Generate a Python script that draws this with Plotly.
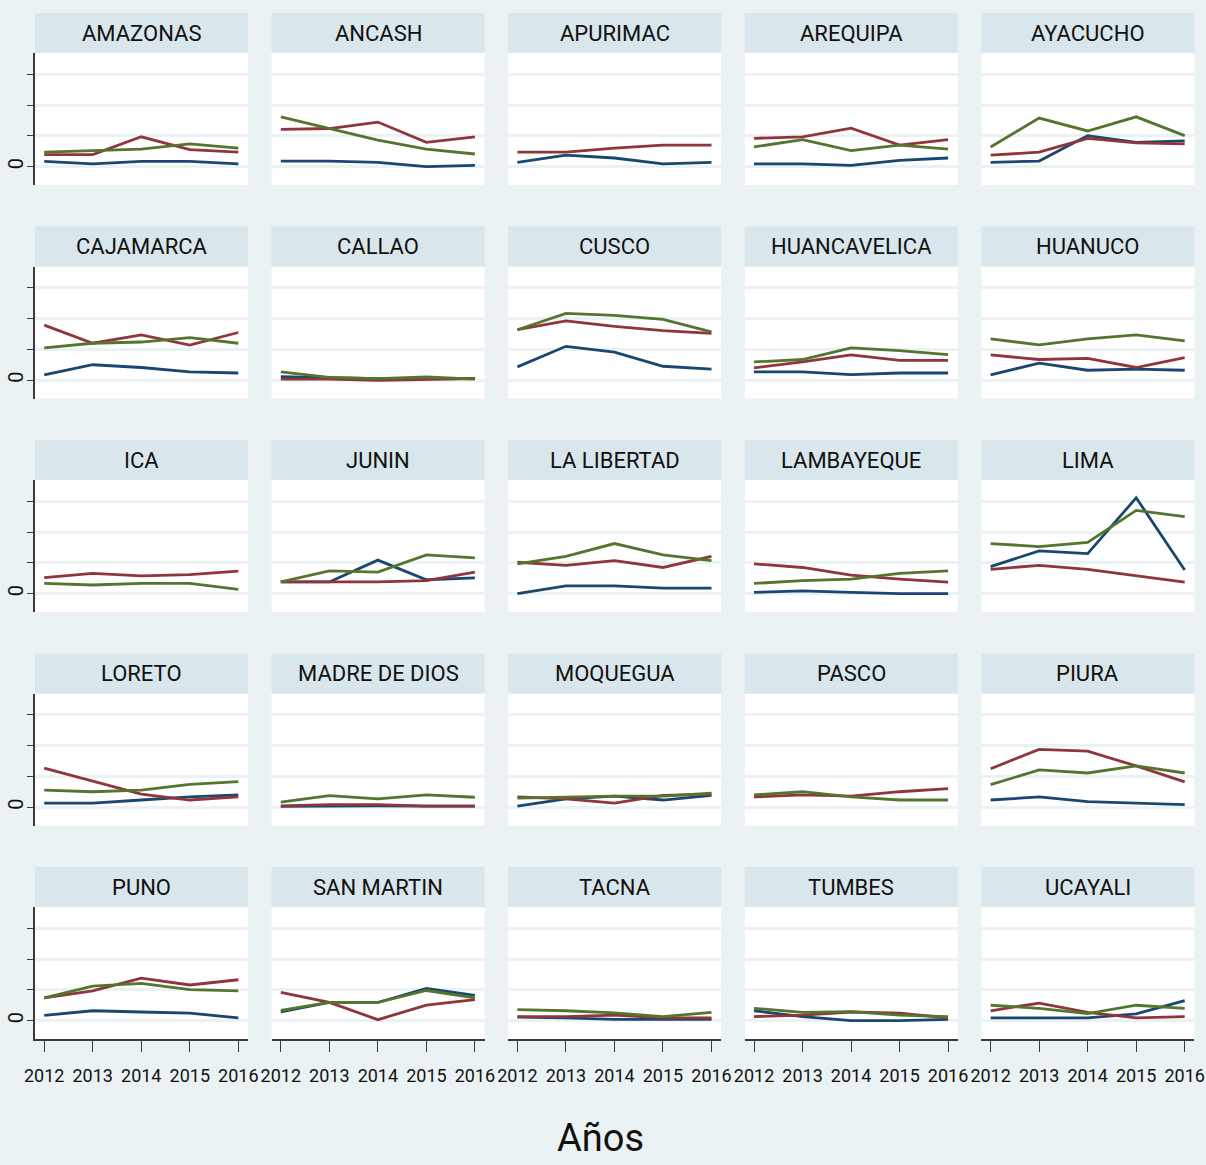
import plotly.graph_objects as go

regions = ["AMAZONAS", "ANCASH", "APURIMAC", "AREQUIPA", "AYACUCHO",
           "CAJAMARCA", "CALLAO", "CUSCO", "HUANCAVELICA", "HUANUCO",
           "ICA", "JUNIN", "LA LIBERTAD", "LAMBAYEQUE", "LIMA",
           "LORETO", "MADRE DE DIOS", "MOQUEGUA", "PASCO", "PIURA",
           "PUNO", "SAN MARTIN", "TACNA", "TUMBES", "UCAYALI"]
years = [2012, 2013, 2014, 2015, 2016]

serie_azul = [
    [0.17, 0.09, 0.17, 0.17, 0.09],
    [0.18, 0.18, 0.14, 0.00, 0.04],
    [0.14, 0.37, 0.28, 0.09, 0.14],
    [0.09, 0.09, 0.04, 0.20, 0.28],
    [0.14, 0.18, 1.01, 0.79, 0.84],
    [0.17, 0.50, 0.41, 0.27, 0.23],
    [0.11, 0.08, 0.05, 0.05, 0.05],
    [0.43, 1.10, 0.91, 0.45, 0.36],
    [0.27, 0.27, 0.18, 0.23, 0.23],
    [0.17, 0.55, 0.32, 0.36, 0.32],
    [None, None, None, None, None],
    [0.38, 0.38, 1.09, 0.45, 0.51],
    [0.00, 0.25, 0.25, 0.18, 0.18],
    [0.04, 0.09, 0.04, 0.00, 0.00],
    [0.88, 1.39, 1.30, 3.12, 0.77],
    [0.13, 0.13, 0.23, 0.33, 0.40],
    [0.02, 0.04, 0.04, 0.03, 0.03],
    [0.03, 0.27, 0.36, 0.23, 0.38],
    [None, None, None, None, None],
    [0.23, 0.33, 0.18, 0.13, 0.08],
    [0.17, 0.32, 0.28, 0.24, 0.09],
    [0.28, 0.59, 0.59, 1.05, 0.82],
    [0.11, 0.09, 0.04, 0.04, 0.04],
    [0.32, 0.13, 0.00, 0.00, 0.04],
    [0.09, 0.09, 0.09, 0.22, 0.65],
]
serie_roja = [
    [0.39, 0.39, 0.97, 0.55, 0.47],
    [1.21, 1.24, 1.45, 0.79, 0.97],
    [0.47, 0.47, 0.60, 0.70, 0.70],
    [0.92, 0.97, 1.25, 0.70, 0.88],
    [0.37, 0.47, 0.92, 0.77, 0.74],
    [1.79, 1.20, 1.47, 1.14, 1.55],
    [0.03, 0.03, -0.01, 0.03, 0.05],
    [1.64, 1.93, 1.75, 1.61, 1.52],
    [0.40, 0.59, 0.82, 0.64, 0.64],
    [0.82, 0.67, 0.71, 0.41, 0.73],
    [0.52, 0.66, 0.58, 0.62, 0.73],
    [0.38, 0.38, 0.38, 0.42, 0.70],
    [1.02, 0.92, 1.07, 0.85, 1.21],
    [0.97, 0.85, 0.60, 0.47, 0.37],
    [0.79, 0.92, 0.79, 0.58, 0.37],
    [1.27, 0.84, 0.42, 0.23, 0.33],
    [0.04, 0.08, 0.08, 0.03, 0.03],
    [0.33, 0.27, 0.13, 0.38, 0.42],
    [0.33, 0.40, 0.36, 0.50, 0.60],
    [1.25, 1.88, 1.82, 1.34, 0.82],
    [0.74, 0.97, 1.38, 1.16, 1.33],
    [0.92, 0.59, 0.03, 0.50, 0.68],
    [0.13, 0.13, 0.18, 0.09, 0.09],
    [0.13, 0.18, 0.28, 0.24, 0.09],
    [0.32, 0.57, 0.27, 0.09, 0.13],
]
serie_verde = [
    [0.47, 0.52, 0.57, 0.74, 0.60],
    [1.62, 1.25, 0.86, 0.57, 0.41],
    [None, None, None, None, None],
    [0.64, 0.88, 0.52, 0.70, 0.57],
    [0.64, 1.58, 1.16, 1.62, 1.01],
    [1.05, 1.20, 1.24, 1.38, 1.20],
    [0.27, 0.09, 0.05, 0.10, 0.03],
    [1.64, 2.17, 2.11, 1.98, 1.57],
    [0.59, 0.67, 1.05, 0.96, 0.83],
    [1.34, 1.15, 1.34, 1.47, 1.28],
    [0.33, 0.28, 0.33, 0.33, 0.14],
    [0.38, 0.74, 0.70, 1.26, 1.16],
    [0.97, 1.21, 1.63, 1.26, 1.07],
    [0.33, 0.42, 0.47, 0.66, 0.74],
    [1.63, 1.53, 1.67, 2.71, 2.51],
    [0.55, 0.50, 0.55, 0.74, 0.83],
    [0.16, 0.37, 0.27, 0.40, 0.32],
    [0.29, 0.32, 0.36, 0.36, 0.45],
    [0.40, 0.50, 0.33, 0.23, 0.23],
    [0.73, 1.21, 1.11, 1.34, 1.11],
    [0.74, 1.12, 1.21, 1.01, 0.97],
    [0.33, 0.59, 0.59, 0.98, 0.74],
    [0.36, 0.32, 0.25, 0.13, 0.27],
    [0.40, 0.27, 0.29, 0.18, 0.13],
    [0.50, 0.40, 0.23, 0.50, 0.40],
]
y_ticks = [0, 1, 2, 3]
y_tick_labels = ["0", "", "", ""]

W, H = 1206, 1165
BG = "#EAF2F3"
STRIP = "#D9E6EB"
AXIS = "#3a3a3a"
COLORS = ["#1A476F", "#90353B", "#55752F"]
FONT = "Roboto, Liberation Sans, sans-serif"

fig = go.Figure()
shapes = []
annotations = []
layout_axes = {}

col_left0, col_step, col_w = 35, 236.6, 213
row_top0, row_step, strip_h, plot_h = 53, 213.5, 40, 132

for i, name in enumerate(regions):
    r, c = divmod(i, 5)
    x0 = col_left0 + c * col_step
    x1 = x0 + col_w
    yt = row_top0 + r * row_step
    yb = yt + plot_h
    idx = i + 1
    xa = "xaxis" if idx == 1 else f"xaxis{idx}"
    ya = "yaxis" if idx == 1 else f"yaxis{idx}"
    xref = "x" if idx == 1 else f"x{idx}"
    yref = "y" if idx == 1 else f"y{idx}"

    bottom = (r == 4)
    left = (c == 0)
    layout_axes[xa] = dict(
        domain=[x0 / W, x1 / W], anchor=yref, range=[2011.81, 2016.2],
        tickvals=years, ticktext=[str(y) for y in years],
        showticklabels=bottom, ticks="outside" if bottom else "",
        ticklen=11, tickwidth=1.3, tickcolor=AXIS, tickangle=0,
        ticklabelstandoff=9,
        showline=bottom, linecolor=AXIS, linewidth=1.5,
        showgrid=False, zeroline=False, automargin=False,
        tickfont=dict(family=FONT, size=18, color="#111"),
    )
    layout_axes[ya] = dict(
        domain=[1 - yb / H, 1 - yt / H], anchor=xref, range=[-0.6, 3.7],
        tickvals=y_ticks, ticktext=y_tick_labels,
        showticklabels=left, ticks="outside" if left else "",
        ticklen=6, tickwidth=1.3, tickcolor=AXIS, tickangle=-90,
        ticklabelstandoff=-4,
        showline=left, linecolor=AXIS, linewidth=1.5,
        showgrid=True, gridcolor=BG, gridwidth=3, zeroline=False,
        automargin=False,
        tickfont=dict(family=FONT, size=20, color="#111"),
    )
    shapes.append(dict(type="rect", xref="paper", yref="paper",
                       x0=x0 / W, x1=x1 / W, y0=1 - yt / H, y1=1 - (yt - strip_h) / H,
                       fillcolor=STRIP, line=dict(width=0), layer="below"))
    annotations.append(dict(text=name, xref="paper", yref="paper",
                            x=(x0 + x1) / 2 / W, y=1 - (yt - strip_h / 2) / H,
                            showarrow=False, xanchor="center", yanchor="middle",
                            font=dict(family=FONT, size=22, color="#111")))
    for series, color in zip([serie_azul, serie_roja, serie_verde], COLORS):
        fig.add_trace(go.Scatter(x=years, y=series[i], mode="lines",
                                 line=dict(color=color, width=2.8),
                                 xaxis=xref, yaxis=yref, showlegend=False,
                                 hoverinfo="skip"))

annotations.append(dict(text="Años", xref="paper", yref="paper",
                        x=600 / W, y=1 - 1138 / H, showarrow=False,
                        xanchor="center", yanchor="middle",
                        font=dict(family=FONT, size=38, color="#111")))

fig.update_layout(
    width=W, height=H, margin=dict(l=0, r=0, t=0, b=0),
    paper_bgcolor=BG, plot_bgcolor="white",
    shapes=shapes, annotations=annotations, showlegend=False,
    **layout_axes,
)
fig.write_html("out.html", config={"displayModeBar": False},
               post_script="document.body.style.margin='0';document.body.style.overflow='hidden';")
